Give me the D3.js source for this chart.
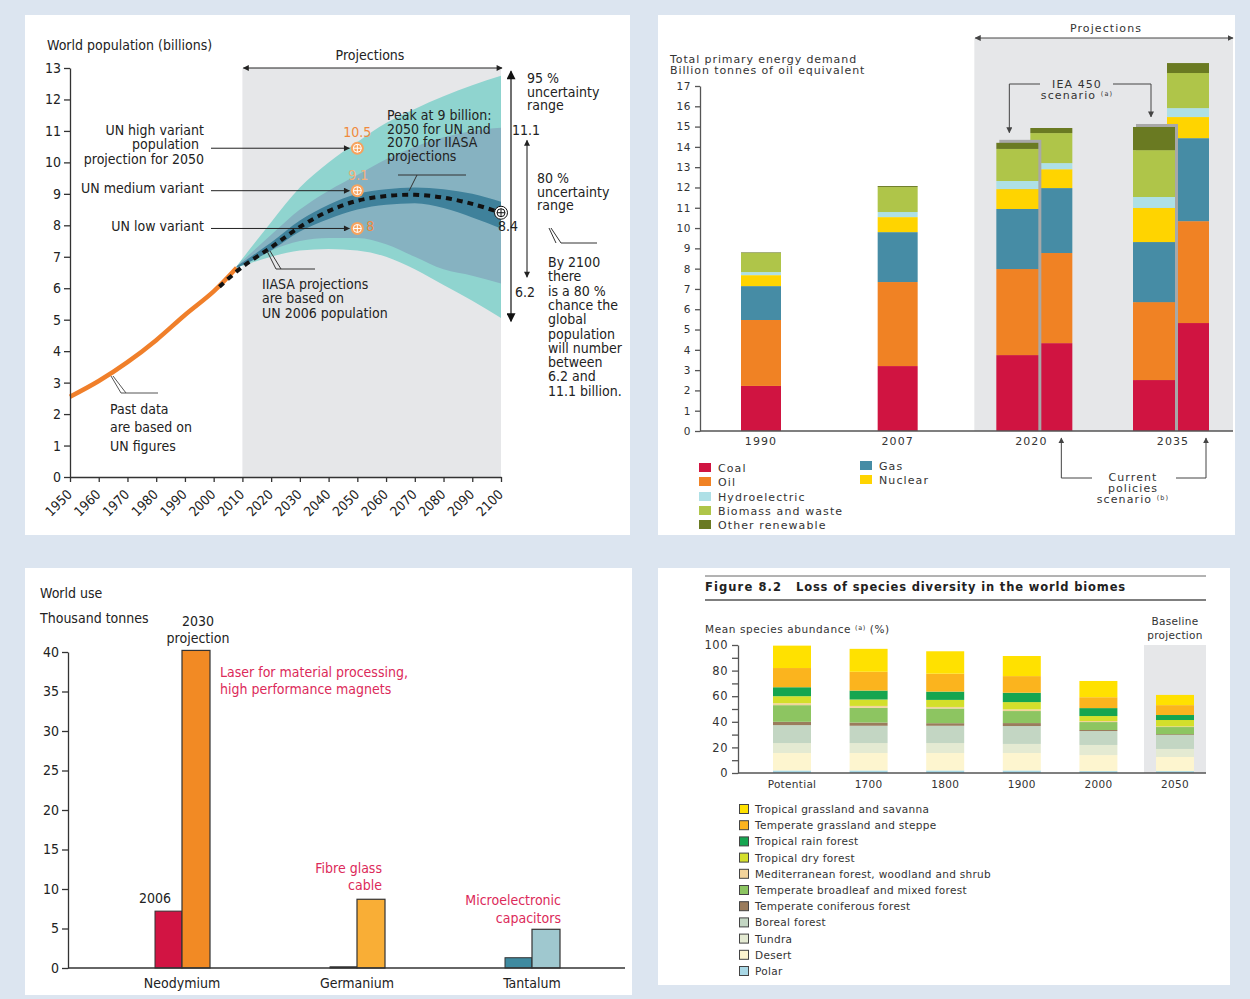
<!DOCTYPE html>
<meta charset="utf-8">
<style>
  body { margin: 0; background: #dce5f0; }
</style>
<body>
<script src="https://cdn.jsdelivr.net/npm/d3@7"></script>
<script>
// ---------- data: world population (billions)
var pastYears = [1950, 1960, 1970, 1980, 1990, 2000, 2008];
var pastPop = [2.55, 3.05, 3.65, 4.35, 5.15, 5.9, 6.65];
var medianYears = [2002, 2010, 2020, 2030, 2040, 2050, 2060, 2070, 2080, 2090, 2100];
var medianPop = [6.05, 6.68, 7.3, 7.95, 8.45, 8.78, 8.93, 8.97, 8.88, 8.68, 8.4];
var bandYears = [2008, 2020, 2030, 2040, 2050, 2060, 2070, 2080, 2090, 2100];
var band95Hi = [6.7, 8.1, 9.2, 10.0, 10.65, 11.25, 11.7, 12.1, 12.45, 12.75];
var band95Lo = [6.65, 7.0, 7.2, 7.25, 7.2, 7.0, 6.6, 6.1, 5.6, 5.05];
var band80Hi = [6.7, 7.7, 8.5, 9.1, 9.6, 10.1, 10.5, 10.8, 11.0, 11.1];
var band80Lo = [6.65, 7.2, 7.5, 7.6, 7.6, 7.4, 7.0, 6.6, 6.4, 6.15];
var bandInHi = [6.7, 7.45, 8.15, 8.65, 9.0, 9.15, 9.2, 9.15, 9.0, 8.75];
var bandInLo = [6.65, 7.2, 7.8, 8.2, 8.5, 8.65, 8.7, 8.55, 8.25, 7.9];
var unVariants = ["UN high variant", "UN medium variant", "UN low variant"];
var unValues = [10.45, 9.1, 7.9];
var unLabels = ["10.5", "9.1", "8"];

// ---------- data: total primary energy demand (billion toe)
var energyCats = ["1990", "2007", "2020", "2020", "2035", "2035"];
var energyScen = ["hist", "hist", "450", "cps", "450", "cps"];
var coal    = [2.22, 3.2, 3.74, 4.33, 2.51, 5.32];
var oil     = [3.25, 4.14, 4.24, 4.44, 3.84, 5.02];
var gas     = [1.67, 2.46, 2.96, 3.2, 2.96, 4.09];
var nuclear = [0.54, 0.74, 0.98, 0.93, 1.68, 1.04];
var hydro   = [0.15, 0.25, 0.4, 0.3, 0.54, 0.44];
var biomass = [0.94, 1.23, 1.58, 1.48, 2.31, 1.73];
var otherRen = [0.03, 0.05, 0.3, 0.25, 1.14, 0.49];
var fuelNames = ["Coal", "Oil", "Gas", "Nuclear", "Hydroelectric", "Biomass and waste", "Other renewable"];
var fuelColors = ["#d01441", "#f08224", "#468ca5", "#ffd400", "#aee0e6", "#afc549", "#6a7a22"];

// ---------- data: metals world use (thousand tonnes)
var materials = ["Neodymium", "Germanium", "Tantalum"];
var use2006 = [7.2, 0.15, 1.3];
var use2030 = [40.2, 8.7, 4.9];
var uses = ["Laser for material processing,|high performance magnets", "Fibre glass|cable", "Microelectronic|capacitors"];

// ---------- data: mean species abundance (%)
var periods = ["Potential", "1700", "1800", "1900", "2000", "2050"];
var biomes = ["Polar", "Desert", "Tundra", "Boreal forest", "Temperate coniferous forest",
  "Temperate broadleaf and mixed forest", "Mediterranean forest, woodland and shrub",
  "Tropical dry forest", "Tropical rain forest", "Temperate grassland and steppe",
  "Tropical grassland and savanna"];
var polar     = [2, 2, 2, 2, 1.5, 1.5];
var desert    = [13.6, 13.6, 13.6, 13.6, 12.5, 11];
var tundra    = [7.8, 7.8, 7.8, 7.1, 7.9, 6.3];
var boreal    = [14, 13.5, 13.5, 14, 10.9, 10.9];
var conifer   = [2.6, 2.5, 2, 2.3, 0.8, 0.6];
var broadleaf = [13, 11.5, 11.5, 9.4, 6.2, 5.6];
var mediter   = [1.5, 1.5, 1.2, 1.3, 0.8, 0.5];
var tropDry   = [5.5, 5, 5.5, 5.7, 3.9, 5];
var rainFor   = [7, 7, 6.5, 7.3, 6.2, 3.9];
var tempGrass = [15, 14.7, 14, 13, 8.5, 7.7];
var tropGrass = [17.5, 17.9, 17.5, 15.7, 12.7, 8];
var biomeColors = ["#a9d8e6", "#fdf5cf", "#e4ead2", "#c3d6c3", "#9a7c5c", "#8dc561",
  "#f2d49b", "#d4df2b", "#15a550", "#fbb41e", "#ffe100"];

var fontA = "'DejaVu Sans Condensed', 'Liberation Sans', sans-serif";
var fontB = "'DejaVu Sans', Verdana, sans-serif";

var svg = d3.select("body").append("svg")
    .attr("width", 1250).attr("height", 999).style("display", "block");
svg.append("rect").attr("width", 1250).attr("height", 999).attr("fill", "#dce5f0");

var defs = svg.append("defs");
function marker(id, w, h, color) {
  defs.append("marker").attr("id", id).attr("viewBox", "0 0 10 10")
    .attr("refX", 9).attr("refY", 5).attr("markerUnits", "userSpaceOnUse")
    .attr("markerWidth", w).attr("markerHeight", h).attr("orient", "auto-start-reverse")
    .append("path").attr("d", "M0,0L10,5L0,10z").attr("fill", color);
}
marker("arr", 7, 6, "#222");
marker("arrBig", 12, 9, "#111");
marker("arrB", 6, 6, "#444");

// white panels
[[25, 15, 605, 520], [658, 15, 577, 520], [25, 568, 607, 427], [658, 568, 572, 417]].forEach(function(p) {
  svg.append("rect").attr("x", p[0]).attr("y", p[1]).attr("width", p[2]).attr("height", p[3]).attr("fill", "#fff");
});

function lines(g, x, y, arr, lh, anchor) {
  var t = g.append("text").attr("x", x).attr("y", y).attr("text-anchor", anchor || "start");
  arr.forEach(function(s, i) { t.append("tspan").attr("x", x).attr("dy", i ? lh : 0).text(s); });
  return t;
}

// ================= Panel A: world population =================
var gA = svg.append("g").attr("font-family", fontA).attr("font-size", 14).attr("fill", "#222");
var xA = d3.scaleLinear().domain([1950, 2100]).range([70, 501]);
var yA = d3.scaleLinear().domain([0, 13]).range([477, 68]);

gA.append("rect").attr("x", xA(2010)).attr("y", yA(13))
  .attr("width", xA(2100) - xA(2010)).attr("height", yA(0) - yA(13)).attr("fill", "#e6e7e9");

function band(lo, hi) {
  return d3.area().curve(d3.curveMonotoneX)
    .x(function(d, i) { return xA(bandYears[i]); })
    .y0(function(d, i) { return yA(lo[i]); })
    .y1(function(d, i) { return yA(hi[i]); })(bandYears);
}
gA.append("path").attr("d", band(band95Lo, band95Hi)).attr("fill", "#8fd4cf");
gA.append("path").attr("d", band(band80Lo, band80Hi)).attr("fill", "#86b2c1");
gA.append("path").attr("d", band(bandInLo, bandInHi)).attr("fill", "#3f819b");

var lineA = d3.line().curve(d3.curveCatmullRom);
gA.append("path")
  .attr("d", lineA(pastYears.map(function(y, i) { return [xA(y), yA(pastPop[i])]; })))
  .attr("fill", "none").attr("stroke", "#f07f2a").attr("stroke-width", 4.5);
gA.append("path")
  .attr("d", lineA(medianYears.map(function(y, i) { return [xA(y), yA(medianPop[i])]; })))
  .attr("fill", "none").attr("stroke", "#111").attr("stroke-width", 4).attr("stroke-dasharray", "6,5");

// projections arrow
gA.append("line").attr("x1", xA(2010) + 1).attr("x2", xA(2100) + 1).attr("y1", yA(13)).attr("y2", yA(13))
  .attr("stroke", "#222").attr("marker-start", "url(#arr)").attr("marker-end", "url(#arr)");
gA.append("text").attr("x", 370).attr("y", 60).attr("text-anchor", "middle").text("Projections");
gA.append("text").attr("x", 47).attr("y", 50).text("World population (billions)");

// UN variant markers
function crossMark(g, cx, cy, fill, stroke) {
  var s = stroke === "none" ? "#fff" : stroke;
  g.append("circle").attr("cx", cx).attr("cy", cy).attr("r", 6.5).attr("fill", fill).attr("stroke", stroke);
  g.append("circle").attr("cx", cx).attr("cy", cy).attr("r", 4).attr("fill", "none").attr("stroke", s).attr("stroke-width", 1);
  g.append("path").attr("d", "M" + (cx - 4) + "," + cy + "H" + (cx + 4) + "M" + cx + "," + (cy - 4) + "V" + (cy + 4))
    .attr("stroke", s).attr("stroke-width", 1);
}
unValues.forEach(function(v, i) {
  var cx = xA(2050), cy = yA(v);
  gA.append("line").attr("x1", 211).attr("x2", cx - 8).attr("y1", cy).attr("y2", cy)
    .attr("stroke", "#222").attr("marker-end", "url(#arr)");
  crossMark(gA, cx, cy, "#f7a25c", "none");
});
gA.append("text").attr("x", xA(2050)).attr("y", yA(unValues[0]) - 11).attr("text-anchor", "middle")
  .attr("fill", "#f08a3c").text(unLabels[0]);
gA.append("text").attr("x", xA(2050) + 1).attr("y", yA(unValues[1]) - 11).attr("text-anchor", "middle")
  .attr("fill", "#f5b07a").text(unLabels[1]);
gA.append("text").attr("x", xA(2050) + 9).attr("y", yA(unValues[2]) + 3).attr("fill", "#f08a3c").text(unLabels[2]);

lines(gA, 204, 135, ["UN high variant"], 0, "end");
lines(gA, 199, 149, ["population"], 0, "end");
lines(gA, 204, 164, ["projection for 2050"], 0, "end");
lines(gA, 204, 193, [unVariants[1]], 0, "end");
lines(gA, 204, 231, [unVariants[2]], 0, "end");

// 2100 end marker
crossMark(gA, xA(2100), yA(8.4), "#fff", "#111");
gA.append("text").attr("x", 498).attr("y", 231).text("8.4");

lines(gA, 387, 120, ["Peak at 9 billion:", "2050 for UN and", "2070 for IIASA", "projections"], 13.7);
gA.append("path").attr("d", "M398,175H466M417,175L409,191").attr("stroke", "#333").attr("fill", "none");

lines(gA, 262, 289, ["IIASA projections", "are based on", "UN 2006 population"], 14.3);
gA.append("path").attr("d", "M267,251L276,269H315M270,251L281,269").attr("stroke", "#333").attr("fill", "none");

lines(gA, 110, 414, ["Past data", "are based on", "UN figures"], 18.3);
gA.append("path").attr("d", "M111,376L121,393H158M113,376L126,393").attr("stroke", "#555").attr("fill", "none");

// uncertainty arrows
gA.append("line").attr("x1", 511).attr("x2", 511).attr("y1", yA(12.9)).attr("y2", yA(4.95))
  .attr("stroke", "#111").attr("stroke-width", 1.2)
  .attr("marker-start", "url(#arrBig)").attr("marker-end", "url(#arrBig)");
gA.append("line").attr("x1", 527).attr("x2", 527).attr("y1", yA(10.7)).attr("y2", yA(6.35))
  .attr("stroke", "#111").attr("marker-start", "url(#arr)").attr("marker-end", "url(#arr)");
lines(gA, 527, 83, ["95 %", "uncertainty", "range"], 13.7);
gA.append("text").attr("x", 512).attr("y", 135).text("11.1");
lines(gA, 537, 183, ["80 %", "uncertainty", "range"], 13.7);
gA.append("text").attr("x", 515).attr("y", 297).text("6.2");
lines(gA, 548, 267, ["By 2100", "there", "is a 80 %", "chance the", "global", "population",
  "will number", "between", "6.2 and", "11.1 billion."], 14.3);
gA.append("path").attr("d", "M549,228L556,243M551,228L561,243H597").attr("stroke", "#333").attr("fill", "none");

// axes
var axA = gA.append("g").attr("transform", "translate(70,0)")
  .call(d3.axisLeft(yA).ticks(13).tickSize(6).tickSizeOuter(0).tickPadding(3));
axA.attr("font-family", fontA).attr("font-size", 14);
axA.selectAll("path,line").attr("stroke", "#333").attr("stroke-width", 1.3);
axA.selectAll("text").attr("fill", "#222");
var axAx = gA.append("g").attr("transform", "translate(0," + yA(0) + ")")
  .call(d3.axisBottom(xA).tickValues(d3.range(1950, 2101, 10)).tickFormat(d3.format("d")).tickSize(5).tickSizeOuter(0));
axAx.attr("font-family", fontA).attr("font-size", 13.5);
axAx.selectAll("path,line").attr("stroke", "#333").attr("stroke-width", 1.3);
axAx.selectAll("text").attr("fill", "#222").attr("x", 0).attr("y", 0).attr("dy", "0.35em")
  .attr("text-anchor", "end").attr("transform", "translate(-1,15) rotate(-45)");

// ================= Panel B: energy demand =================
var gB = svg.append("g").attr("font-family", fontB).attr("font-size", 11)
  .attr("letter-spacing", 1.1).attr("fill", "#333");
var xB = d3.scalePoint().domain(["1990", "2007", "2020", "2035"]).range([761, 1171]);
var yB = d3.scaleLinear().domain([0, 17]).range([431, 86]);

gB.append("rect").attr("x", xB("2020") - 60).attr("y", 38)
  .attr("width", 1233 - (xB("2020") - 60)).attr("height", yB(0) - 38).attr("fill", "#e6e7e9");
gB.append("line").attr("x1", xB("2020") - 59).attr("x2", 1233).attr("y1", 38).attr("y2", 38)
  .attr("stroke", "#444").attr("marker-start", "url(#arrB)").attr("marker-end", "url(#arrB)");
gB.append("text").attr("x", 1106).attr("y", 32).attr("text-anchor", "middle").text("Projections");

var energyRows = energyCats.map(function(c, i) {
  return { cat: c, scen: energyScen[i], Coal: coal[i], Oil: oil[i], Gas: gas[i], Nuclear: nuclear[i],
    Hydroelectric: hydro[i], "Biomass and waste": biomass[i], "Other renewable": otherRen[i] };
});
var stackB = d3.stack().keys(fuelNames)(energyRows);
function barX(r) {
  if (r.scen === "hist") return xB(r.cat) - 20;
  return xB(r.cat) + (r.scen === "450" ? -17 : 17) - 21;
}
function barW(r) { return r.scen === "hist" ? 40 : 42; }
var drawOrder = [0, 1, 3, 2, 5, 4];
drawOrder.forEach(function(i) {
  var r = energyRows[i];
  var top = yB(stackB[stackB.length - 1][i][1]);
  if (r.scen === "450") {
    gB.append("rect").attr("x", barX(r) + 3).attr("y", top - 3).attr("width", barW(r))
      .attr("height", yB(0) - top + 3).attr("fill", "#a8a8a8");
  }
  stackB.forEach(function(s, k) {
    gB.append("rect").attr("x", barX(r)).attr("width", barW(r))
      .attr("y", yB(s[i][1])).attr("height", yB(s[i][0]) - yB(s[i][1]))
      .attr("fill", fuelColors[k]);
  });
});

var axB = gB.append("g").attr("transform", "translate(700,0)")
  .call(d3.axisLeft(yB).ticks(17).tickSize(5).tickSizeOuter(0).tickPadding(4));
axB.attr("font-family", fontB).attr("font-size", 10.5);
axB.selectAll("path,line").attr("stroke", "#555").attr("stroke-width", 1.3);
axB.selectAll("text").attr("fill", "#333").attr("letter-spacing", 0.6);
gB.append("line").attr("x1", 700).attr("x2", 1233).attr("y1", yB(0)).attr("y2", yB(0))
  .attr("stroke", "#555").attr("stroke-width", 1.3);
["1990", "2007", "2020", "2035"].forEach(function(c) {
  gB.append("text").attr("x", xB(c) + (c === "2020" ? -3 : c === "2035" ? 2 : 0)).attr("y", 445)
    .attr("text-anchor", "middle").text(c);
});
lines(gB, 670, 63, ["Total primary energy demand", "Billion tonnes of oil equivalent"], 11).attr("letter-spacing", 0.9);

// IEA 450 callout
lines(gB, 1077, 88, ["IEA 450"], 0, "middle");
var tSc = gB.append("text").attr("x", 1077).attr("y", 99).attr("text-anchor", "middle");
tSc.append("tspan").text("scenario ");
tSc.append("tspan").attr("font-size", 6.5).attr("dy", -3).text("(a)");
var x450a = xB("2020") - 17 - 8, x450b = xB("2035") - 17 - 3;
gB.append("path").attr("d", "M1040,84H" + x450a + "V" + (yB(14.2 + 0.5)))
  .attr("fill", "none").attr("stroke", "#444").attr("marker-end", "url(#arrB)");
gB.append("path").attr("d", "M1113,84H" + x450b + "V" + (yB(14.98 + 0.5)))
  .attr("fill", "none").attr("stroke", "#444").attr("marker-end", "url(#arrB)");

// current policies callout
var cpa = xB("2020") + 27, cpb = xB("2035") + 35;
gB.append("path").attr("d", "M1092,478H" + cpa + "V438").attr("fill", "none").attr("stroke", "#444").attr("marker-end", "url(#arrB)");
gB.append("path").attr("d", "M1176,478H" + cpb + "V438").attr("fill", "none").attr("stroke", "#444").attr("marker-end", "url(#arrB)");
lines(gB, 1133, 481, ["Current", "policies"], 11, "middle");
var tCp = gB.append("text").attr("x", 1133).attr("y", 503).attr("text-anchor", "middle");
tCp.append("tspan").text("scenario ");
tCp.append("tspan").attr("font-size", 6.5).attr("dy", -3).text("(b)");

// legend B
var legB = [[0, 699, 472], [1, 699, 486], [4, 699, 501], [5, 699, 515], [6, 699, 529], [2, 860, 470], [3, 860, 484]];
legB.forEach(function(l) {
  gB.append("rect").attr("x", l[1]).attr("y", l[2] - 9).attr("width", 12).attr("height", 9).attr("fill", fuelColors[l[0]]);
  gB.append("text").attr("x", l[1] + 19).attr("y", l[2]).text(fuelNames[l[0]]);
});

// ================= Panel C: metals =================
var gC = svg.append("g").attr("font-family", fontA).attr("font-size", 14).attr("fill", "#222");
var xC = d3.scalePoint().domain(materials).range([182, 532]);
var yC = d3.scaleLinear().domain([0, 40]).range([968, 652]);
var col2006 = ["#d21443", "#222", "#3e8aa0"];
var col2030 = ["#f28a24", "#f9ae36", "#9fc8cf"];
materials.forEach(function(m, i) {
  gC.append("rect").attr("x", xC(m) - 27).attr("width", 27).attr("y", yC(use2006[i]))
    .attr("height", yC(0) - yC(use2006[i])).attr("fill", col2006[i]).attr("stroke", "#333").attr("stroke-width", 1);
  gC.append("rect").attr("x", xC(m)).attr("width", 28).attr("y", yC(use2030[i]))
    .attr("height", yC(0) - yC(use2030[i])).attr("fill", col2030[i]).attr("stroke", "#333").attr("stroke-width", 1.2);
  gC.append("text").attr("x", xC(m)).attr("y", 988).attr("text-anchor", "middle").text(m);
});
var axC = gC.append("g").attr("transform", "translate(68,0)")
  .call(d3.axisLeft(yC).tickValues(d3.range(0, 41, 5)).tickSize(6).tickSizeOuter(0).tickPadding(3));
axC.attr("font-family", fontA).attr("font-size", 14);
axC.selectAll("path,line").attr("stroke", "#333").attr("stroke-width", 1.3);
axC.selectAll("text").attr("fill", "#222");
gC.append("line").attr("x1", 68).attr("x2", 625).attr("y1", yC(0)).attr("y2", yC(0)).attr("stroke", "#333").attr("stroke-width", 1.3);
gC.append("text").attr("x", 40).attr("y", 598).text("World use");
gC.append("text").attr("x", 40).attr("y", 623).text("Thousand tonnes");
lines(gC, xC("Neodymium") + 16, 626, ["2030", "projection"], 17, "middle");
gC.append("text").attr("x", xC("Neodymium") - 27).attr("y", yC(use2006[0]) - 8).attr("text-anchor", "middle").text("2006");
var useCol = "#dc2a5a";
lines(gC, xC("Neodymium") + 38, 677, uses[0].split("|"), 17).attr("fill", useCol);
lines(gC, xC("Germanium") + 25, yC(use2030[1]) - 26, uses[1].split("|"), 17, "end").attr("fill", useCol);
lines(gC, xC("Tantalum") + 29, yC(use2030[2]) - 24, uses[2].split("|"), 18, "end").attr("fill", useCol);

// ================= Panel D: species abundance =================
var gD = svg.append("g").attr("font-family", fontB).attr("font-size", 10.5)
  .attr("letter-spacing", 0.3).attr("fill", "#333");
var xD = d3.scalePoint().domain(periods).range([792, 1175]);
var yD = d3.scaleLinear().domain([0, 100]).range([773, 645]);

gD.append("rect").attr("x", xD("2050") - 31).attr("y", yD(100)).attr("width", 62)
  .attr("height", yD(0) - yD(100)).attr("fill", "#e6e7e9");
lines(gD, xD("2050"), 625, ["Baseline", "projection"], 13.5, "middle");

var seriesD = [polar, desert, tundra, boreal, conifer, broadleaf, mediter, tropDry, rainFor, tempGrass, tropGrass];
var rowsD = periods.map(function(p, i) {
  var r = { period: p };
  biomes.forEach(function(b, k) { r[b] = seriesD[k][i]; });
  return r;
});
var stackD = d3.stack().keys(biomes)(rowsD);
stackD.forEach(function(s, k) {
  s.forEach(function(d, i) {
    gD.append("rect").attr("x", xD(periods[i]) - 19).attr("width", 38)
      .attr("y", yD(d[1])).attr("height", yD(d[0]) - yD(d[1])).attr("fill", biomeColors[k]);
  });
});

var axD = gD.append("g").attr("transform", "translate(738,0)")
  .call(d3.axisLeft(yD).tickValues(d3.range(0, 101, 10)).tickSize(6).tickSizeOuter(0).tickPadding(4)
    .tickFormat(function(d) { return d % 20 === 0 ? d : ""; }));
axD.attr("font-family", fontB).attr("font-size", 11.5);
axD.selectAll("path,line").attr("stroke", "#555").attr("stroke-width", 1.3);
axD.selectAll("text").attr("fill", "#333").attr("letter-spacing", 0.5);
gD.append("line").attr("x1", 738).attr("x2", 1206).attr("y1", yD(0)).attr("y2", yD(0)).attr("stroke", "#555").attr("stroke-width", 1.3);
periods.forEach(function(p) {
  gD.append("text").attr("x", xD(p)).attr("y", 788).attr("text-anchor", "middle").text(p);
});

gD.append("line").attr("x1", 705).attr("x2", 1206).attr("y1", 576).attr("y2", 576).attr("stroke", "#666");
gD.append("line").attr("x1", 705).attr("x2", 1206).attr("y1", 600).attr("y2", 600).attr("stroke", "#555").attr("stroke-width", 1.5);
gD.append("text").attr("x", 705).attr("y", 591).attr("font-weight", "bold").attr("font-size", 11.5)
  .attr("letter-spacing", 1.1).attr("fill", "#222").text("Figure 8.2");
gD.append("text").attr("x", 796).attr("y", 591).attr("font-weight", "bold").attr("font-size", 11.5)
  .attr("letter-spacing", 0.85).attr("fill", "#222")
  .text("Loss of species diversity in the world biomes");
var tMsa = gD.append("text").attr("x", 705).attr("y", 633).attr("letter-spacing", 0.6);
tMsa.append("tspan").text("Mean species abundance ");
tMsa.append("tspan").attr("font-size", 6.5).attr("dy", -3).text("(a)");
tMsa.append("tspan").attr("dy", 3).text(" (%)");

biomes.slice().reverse().forEach(function(b, j) {
  var k = biomes.length - 1 - j, y = 809 + j * 16.2;
  gD.append("rect").attr("x", 739.5).attr("y", y - 4.5).attr("width", 9).attr("height", 9)
    .attr("fill", biomeColors[k]).attr("stroke", "#444").attr("stroke-width", 1);
  gD.append("text").attr("x", 755).attr("y", y + 4).text(b);
});
</script>
</body>
